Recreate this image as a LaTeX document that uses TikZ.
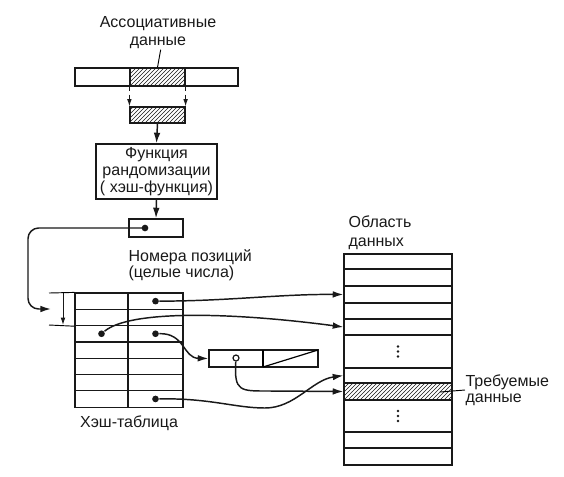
\documentclass[tikz,border=0pt]{standalone}
\usepackage{fontspec}
\setmainfont{Liberation Sans}
\usetikzlibrary{arrows.meta,patterns,positioning}
\definecolor{hsInk}{RGB}{25,25,25}
\tikzset{
  lbl/.style={font=\fontsize{12}{13.5}\selectfont, inner sep=0pt, text=hsInk},
  cell/.style={draw=hsInk, inner sep=0pt, line width=0.9pt},
  hatchcell/.style={cell, pattern=north east lines, pattern color=hsInk},
  ptr/.style={-{Latex[length=8pt,width=5pt]}, line width=1.1pt, draw=hsInk},
  thinptr/.style={-{Latex[length=5.5pt,width=3.5pt]}, line width=0.7pt, draw=hsInk},
  dotmark/.style={circle, fill=hsInk, inner sep=0pt, minimum size=5pt},
  ringmark/.style={circle, draw=hsInk, fill=white, line width=0.9pt, inner sep=0pt, minimum size=4.5pt}
}

\begin{document}
\begin{tikzpicture}[x=0.75pt,y=-0.75pt,line width=0.9pt]
  \useasboundingbox (0,0) rectangle (564,476);
  % key and its hashing
  \node[lbl, align=center] (assoc) at (158,33) {Ассоциативные\\данные};
  \node[cell, minimum width=122.25pt, minimum height=13.5pt] (rec) at (156.5,77) {};
  \node[hatchcell, minimum width=41.25pt, minimum height=13.5pt] (keyfld) at (157.5,77) {};
  \node[hatchcell, minimum width=41.25pt, minimum height=12pt] (key) at (157.5,115) {};
  \draw[line width=0.7pt] ([xshift=2pt]assoc.south) -- (keyfld.north);
  \draw[thinptr, dashed] (keyfld.south west) -- (key.north west);
  \draw[thinptr, dashed] (keyfld.south east) -- (key.north east);
  \node[cell, minimum width=90.75pt, minimum height=41.25pt] (hashfn) at (156.5,171.5) {};
  \node[lbl, align=center, font=\fontsize{12}{13}\selectfont] at (hashfn.center) {Функция\\рандомизации\\( хэш-функция)};
  \draw[ptr] (key.south) -- (hashfn.north);
  \node[cell, minimum width=40.5pt, minimum height=13.5pt] (idx) at (156,228) {};
  \node[dotmark] (idxdot) at (145,228) {};
  \draw[ptr] (hashfn.south) -- (idx.north);
  \node[lbl, align=left, font=\fontsize{12}{10.5}\selectfont, anchor=north west] (idxlbl) at (128,249) {Номера позиций\\(целые числа)};
  % hash table
  \foreach \i in {1,...,7} {
    \node[cell, minimum width=39.75pt, minimum height=12.225pt] (tl\i) at (101.5,{293+(\i-0.5)*16.3}) {};
    \node[cell, minimum width=41.25pt, minimum height=12.225pt] (tr\i) at (155.5,{293+(\i-0.5)*16.3}) {};
  }
  \node[lbl] (tbllbl) at (129,423) {Хэш-таблица};
  \draw[line width=0.7pt] (49,293) -- (tl1.north west);
  \draw[line width=0.7pt] (49,325) -- (tl2.south west);
  \draw[thinptr] (63,293) -- (63,325);
  \coordinate (entry) at (51,309);
  \draw[ptr, rounded corners=8pt] (idxdot.center) -| (28,309) -- (entry);
  \node[dotmark] (p1) at (tr1.center) {};
  \node[dotmark] (p3a) at (tl3.center) {};
  \node[dotmark] (p3b) at (tr3.center) {};
  \node[dotmark] (p7) at (tr7.center) {};
  % overflow record
  \node[cell, minimum width=81.75pt, minimum height=12.75pt] (ovf) at (263.5,358.5) {};
  \draw (263,350) -- (263,367);
  \draw (263,367) -- (318,350);
  \node[ringmark] (od) at (236,358) {};
  % data area
  \foreach \t/\b [count=\i] in {254/269,269/286,286/303,303/319,319/335,335/368,368/383,383/400,400/432,432/448,448/465}
    \node[cell, minimum width=81pt, minimum height={(\b-\t)*0.75pt}] (r\i) at (398,{(\t+\b)/2}) {};
  \fill[pattern=north east lines, pattern color=hsInk] (r8.south west) rectangle (r8.north east);
  \foreach \k in {-1,0,1} {
    \fill[hsInk] (r6.center) ++(0,\k*5) circle (1pt);
    \fill[hsInk] (r9.center) ++(0,\k*5) circle (1pt);
  }
  \node[lbl, align=left, font=\fontsize{12}{14}\selectfont, anchor=south west] (datalbl) at (348,250) {Область\\данных};
  \node[lbl, align=left, font=\fontsize{12}{12}\selectfont, anchor=west] (reqlbl) at (465,390) {Требуемые\\данные};
  \draw[line width=0.7pt] (440,392) -- (reqlbl.west);
  % pointers
  \draw[ptr] (p1) .. controls (230,301) and (280,294) .. (r3.west);
  \draw[ptr] (p3a) .. controls (130,310) and (230,312) .. (r5.west);
  \draw[ptr] (p3b) .. controls (185,333) and (183,358) .. (ovf.west);
  \draw[ptr] (od) .. controls (234,392) and (240,391) .. (270,391) -- (r8.west);
  \draw[ptr] (p7) .. controls (210,398) and (235,408) .. (265,408) .. controls (295,408) and (312,380) .. (r7.west);
\end{tikzpicture}
\end{document}
